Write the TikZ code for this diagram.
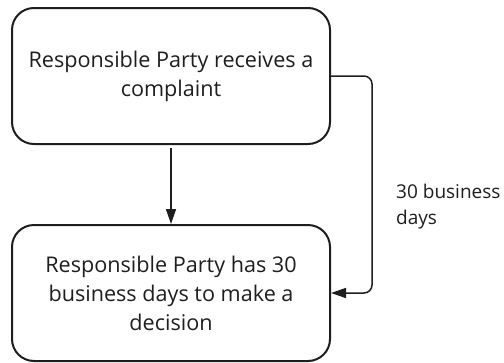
\documentclass[tikz,border=0pt]{standalone}
\usepackage{fontspec}
\setmainfont{Open Sans}
\usetikzlibrary{arrows.meta}
\definecolor{ink}{HTML}{1E1E1E}
\tikzset{
  boxnode/.style={draw=ink, line width=2pt, rounded corners=22pt, minimum width=318pt, minimum height=136pt, align=center, text=ink, font=\fontsize{21.6}{29}\selectfont, inner sep=0pt},
  conn/.style={draw=ink, line width=1.5pt, -{Triangle[length=15pt,width=10pt]}},
  lbl/.style={text=ink, align=left, font=\fontsize{19}{26}\selectfont, inner sep=0pt}
}
\begin{document}
\begin{tikzpicture}[x=1pt,y=-1pt]
\useasboundingbox (0,0) rectangle (504,362);
\node[boxnode] (b1) at (171,76) {Responsible Party receives a\\complaint};
\node[boxnode] (b2) at (171,293) {Responsible Party has 30\\business days to make a\\decision};
\draw[conn, shorten <=3pt] (b1.south) -- (b2.north);
\coordinate (k) at (372,76);
\draw[conn, rounded corners=8pt] (b1.east) -- (k) -- (k |- b2.east) -- (b2.east);
\node[lbl, anchor=base west] (t) at (396,224) {30 business\\days};
\end{tikzpicture}
\end{document}
